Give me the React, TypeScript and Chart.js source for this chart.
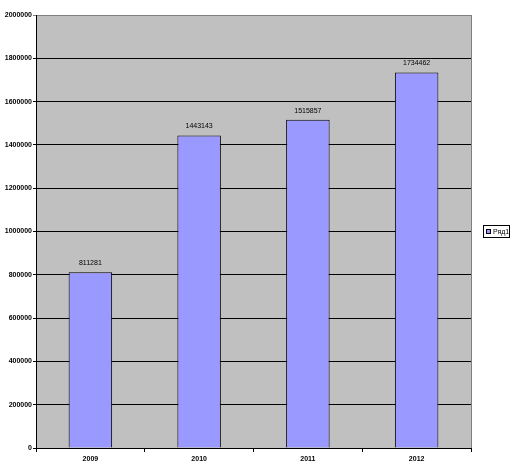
import React, { useEffect, useRef } from "react";
import { Chart, registerables } from "chart.js";

Chart.register(...registerables);

const categories = ["2009", "2010", "2011", "2012"];
const seriesName = "Ряд1";
const seriesValues = [811281, 1443143, 1515857, 1734462];
const yMin = 0;
const yMax = 2000000;
const yStep = 200000;

const FONT = "'Liberation Sans', Arial, sans-serif";
const BAR_COLOR = "#9999FF";
const PLOT_BG = "#C0C0C0";

// Grey plot background, grey plot frame, value labels and the side legend box
const excelLook = {
  id: "excelLook",
  beforeDraw(chart: any) {
    const { ctx, chartArea: a } = chart;
    ctx.save();
    ctx.fillStyle = PLOT_BG;
    ctx.fillRect(a.left, a.top, a.right - a.left, a.bottom - a.top);
    ctx.restore();
  },
  afterDatasetsDraw(chart: any) {
    const { ctx, chartArea: a } = chart;
    ctx.save();
    // right edge of the plot frame
    ctx.strokeStyle = "#808080";
    ctx.lineWidth = 1;
    ctx.beginPath();
    ctx.moveTo(Math.round(a.right) + 0.5, a.top);
    ctx.lineTo(Math.round(a.right) + 0.5, a.bottom);
    ctx.stroke();

    // value labels above bars
    const meta = chart.getDatasetMeta(0);
    ctx.fillStyle = "#000";
    ctx.font = `7px ${FONT}`;
    ctx.textAlign = "center";
    ctx.textBaseline = "middle";
    meta.data.forEach((bar: any, i: number) => {
      ctx.fillText(String(seriesValues[i]), bar.x, bar.y - 9);
    });

    // legend box on the right
    const lx = 483;
    const ly = 225;
    ctx.fillStyle = "#fff";
    ctx.fillRect(lx, ly, 26, 12);
    ctx.strokeStyle = "#000";
    ctx.strokeRect(lx + 0.5, ly + 0.5, 26, 12);
    ctx.fillStyle = BAR_COLOR;
    ctx.fillRect(lx + 3, ly + 4, 5, 5);
    ctx.strokeRect(lx + 3.5, ly + 4.5, 4, 4);
    ctx.fillStyle = "#000";
    ctx.font = `7px ${FONT}`;
    ctx.textAlign = "left";
    ctx.textBaseline = "middle";
    ctx.fillText(seriesName, lx + 10, ly + 7);
    ctx.restore();
  },
};

export default function App() {
  const canvasRef = useRef<HTMLCanvasElement | null>(null);

  useEffect(() => {
    document.body.style.margin = "0";
    const canvas = canvasRef.current;
    if (!canvas) return;
    const chart = new Chart(canvas, {
      type: "bar",
      data: {
        labels: categories,
        datasets: [
          {
            label: seriesName,
            data: seriesValues,
            backgroundColor: BAR_COLOR,
            borderColor: "#000",
            borderWidth: 1,
            barPercentage: 0.4,
            categoryPercentage: 1,
          },
        ],
      },
      options: {
        responsive: false,
        animation: false,
        devicePixelRatio: 1,
        layout: { padding: { top: 15, right: 41, left: 0, bottom: 0 } },
        plugins: {
          legend: { display: false },
          tooltip: { enabled: false },
          title: { display: false },
        },
        scales: {
          x: {
            offset: true,
            grid: {
              display: true,
              offset: true,
              drawOnChartArea: false,
              drawTicks: true,
              tickLength: 4,
              color: "#000",
            },
            border: { display: true, color: "#000", width: 1 },
            ticks: {
              color: "#000",
              padding: 3,
              maxRotation: 0,
              font: { family: FONT, size: 7, weight: "bold" },
            },
            afterFit(scale: any) {
              scale.height = 27;
            },
          },
          y: {
            min: yMin,
            max: yMax,
            grid: {
              color: (c: any) => (c.tick && c.tick.value === yMax ? "#808080" : "#000"),
              tickLength: 3,
              drawTicks: true,
            },
            border: { display: true, color: "#000", width: 1 },
            ticks: {
              stepSize: yStep,
              color: "#000",
              padding: 1,
              font: { family: FONT, size: 7, weight: "bold" },
              callback: (v: any) => String(v),
            },
            afterFit(scale: any) {
              scale.width = 36;
            },
          },
        },
      },
      plugins: [excelLook],
    });
    return () => chart.destroy();
  }, []);

  return (
    <div style={{ width: 512, height: 475, background: "#fff" }}>
      <canvas ref={canvasRef} width={512} height={475} />
    </div>
  );
}
